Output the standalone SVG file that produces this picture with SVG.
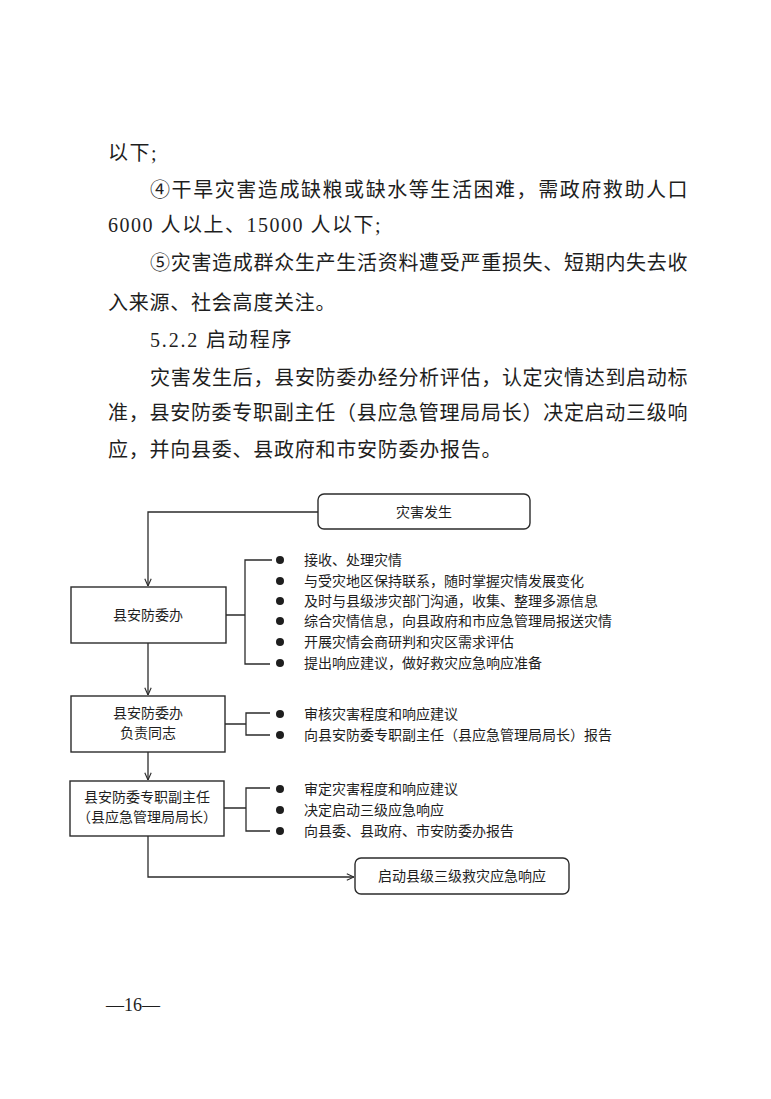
<svg xmlns="http://www.w3.org/2000/svg" width="771" height="1099" viewBox="0 0 771 1099">
<defs>
<style>
.body{font-family:"Liberation Serif","Noto Sans CJK SC",serif;font-size:20px;fill:#1e1e1e;letter-spacing:1.5px}
.fc{font-family:"Noto Sans CJK SC",sans-serif;font-size:14px;fill:#1e1e1e}
.box{fill:#fff;stroke:#2b2b2b;stroke-width:1.4}
.ln{fill:none;stroke:#2b2b2b;stroke-width:1.3}
.dot{fill:#1e1e1e}
.pg{font-family:"Liberation Serif",serif;font-size:18px;fill:#1e1e1e}
</style>
<marker id="arr" viewBox="0 0 10 10" refX="10" refY="5" markerWidth="8" markerHeight="8" markerUnits="userSpaceOnUse" orient="auto">
<path d="M1,1 L10,5 L1,9" fill="none" stroke="#2b2b2b" stroke-width="1.4"/>
</marker>
</defs>
<rect width="771" height="1099" fill="#fff"/>

<g id="body-text">
<text class="body" x="108" y="160">以下;</text>
<text class="body" x="150" y="197" textLength="539" lengthAdjust="spacing">④干旱灾害造成缺粮或缺水等生活困难，需政府救助人口</text>
<text class="body" x="108" y="232" textLength="274" lengthAdjust="spacing">6000 人以上、15000 人以下;</text>
<text class="body" x="150" y="270" textLength="539" lengthAdjust="spacing">⑤灾害造成群众生产生活资料遭受严重损失、短期内失去收</text>
<text class="body" x="108" y="310" textLength="229" lengthAdjust="spacing">入来源、社会高度关注。</text>
<text class="body" x="150" y="347" textLength="143" lengthAdjust="spacing">5.2.2 启动程序</text>
<text class="body" x="150" y="385" textLength="539" lengthAdjust="spacing">灾害发生后，县安防委办经分析评估，认定灾情达到启动标</text>
<text class="body" x="108" y="420" textLength="581" lengthAdjust="spacing">准，县安防委专职副主任（县应急管理局局长）决定启动三级响</text>
<text class="body" x="108" y="457" textLength="395" lengthAdjust="spacing">应，并向县委、县政府和市安防委办报告。</text>
</g>

<g id="connectors">
<path class="ln" d="M318,512 H148 V586" marker-end="url(#arr)"/>
<path class="ln" d="M148,643 V695" marker-end="url(#arr)"/>
<path class="ln" d="M148,752 V780" marker-end="url(#arr)"/>
<path class="ln" d="M148,836 V877 H354" marker-end="url(#arr)"/>
<path class="ln" d="M226,615 H245 M272,560 H245 V664 H270"/>
<path class="ln" d="M225,724 H246 M270,713 H246 V735 H270"/>
<path class="ln" d="M224,808 H246 M270,788 H246 V831 H270"/>
</g>

<g id="node-disaster">
<rect class="box" x="318" y="494" width="212" height="35" rx="6"/>
<text class="fc" x="424" y="517" text-anchor="middle">灾害发生</text>
</g>

<g id="node-office">
<rect class="box" x="71" y="587" width="155" height="56"/>
<text class="fc" x="148" y="620" text-anchor="middle">县安防委办</text>
</g>

<g id="list-office">
<circle class="dot" cx="280" cy="560" r="4"/>
<circle class="dot" cx="280" cy="581" r="4"/>
<circle class="dot" cx="280" cy="601" r="4"/>
<circle class="dot" cx="280" cy="621" r="4"/>
<circle class="dot" cx="280" cy="642" r="4"/>
<circle class="dot" cx="280" cy="663" r="4"/>
<text class="fc" x="304" y="565">接收、处理灾情</text>
<text class="fc" x="304" y="586">与受灾地区保持联系，随时掌握灾情发展变化</text>
<text class="fc" x="304" y="606">及时与县级涉灾部门沟通，收集、整理多源信息</text>
<text class="fc" x="304" y="626">综合灾情信息，向县政府和市应急管理局报送灾情</text>
<text class="fc" x="304" y="647">开展灾情会商研判和灾区需求评估</text>
<text class="fc" x="304" y="668">提出响应建议，做好救灾应急响应准备</text>
</g>

<g id="node-office-head">
<rect class="box" x="71" y="696" width="154" height="56"/>
<text class="fc" x="148" y="718" text-anchor="middle">县安防委办</text>
<text class="fc" x="148" y="738" text-anchor="middle">负责同志</text>
</g>

<g id="list-office-head">
<circle class="dot" cx="280" cy="714" r="4"/>
<circle class="dot" cx="280" cy="735" r="4"/>
<text class="fc" x="304" y="719">审核灾害程度和响应建议</text>
<text class="fc" x="304" y="740">向县安防委专职副主任（县应急管理局局长）报告</text>
</g>

<g id="node-deputy">
<rect class="box" x="70" y="781" width="154" height="55"/>
<text class="fc" x="147" y="802" text-anchor="middle">县安防委专职副主任</text>
<text class="fc" x="147" y="822" text-anchor="middle">（县应急管理局局长）</text>
</g>

<g id="list-deputy">
<circle class="dot" cx="280" cy="789" r="4"/>
<circle class="dot" cx="280" cy="810" r="4"/>
<circle class="dot" cx="280" cy="831" r="4"/>
<text class="fc" x="304" y="794">审定灾害程度和响应建议</text>
<text class="fc" x="304" y="815">决定启动三级应急响应</text>
<text class="fc" x="304" y="836">向县委、县政府、市安防委办报告</text>
</g>

<g id="node-start">
<rect class="box" x="355" y="858" width="214" height="36" rx="6"/>
<text class="fc" x="462" y="881" text-anchor="middle">启动县级三级救灾应急响应</text>
</g>

<text class="pg" x="106" y="1011">—16—</text>
</svg>
